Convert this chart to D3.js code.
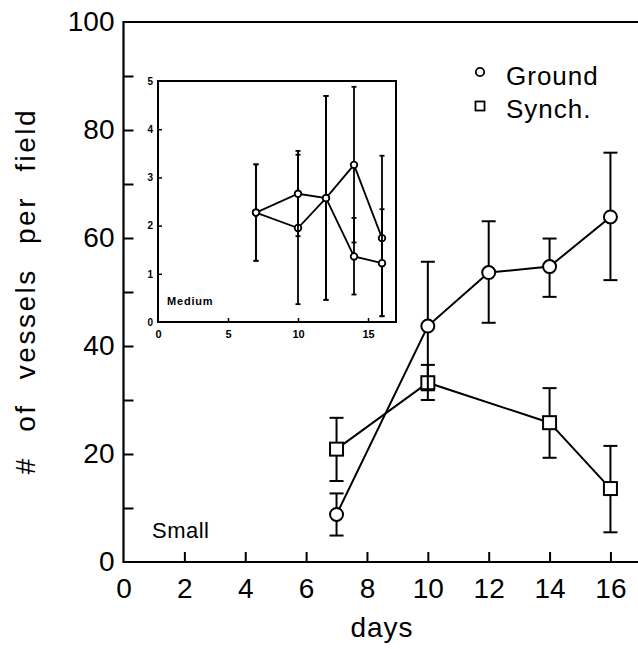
<!DOCTYPE html>
<html>
<head>
<meta charset="utf-8">
<script src="https://cdn.jsdelivr.net/npm/d3@7"></script>
<style>
  html, body { margin: 0; padding: 0; background: #fff; }
  svg { display: block; }
  text { font-family: "Liberation Sans", Arial, sans-serif; fill: #000; }
</style>
</head>
<body>
<div id="chart"></div>
<script>
// ---- Main chart data (Small vessels) ----
const days = [7, 10, 12, 14, 16];
const groundMean = [8.8, 43.7, 53.6, 54.7, 63.9];
const groundLow  = [4.9, 31.8, 44.3, 49.1, 52.2];
const groundHigh = [12.7, 55.6, 63.1, 59.9, 75.8];

const synchDays = [7, 10, 14, 16];
const synchMean = [20.9, 33.2, 25.8, 13.6];
const synchLow  = [15.0, 30.0, 19.3, 5.5];
const synchHigh = [26.7, 36.5, 32.2, 21.5];

// ---- Inset data (Medium vessels) ----
const insetDays = [7, 10, 12, 14, 16];
const medGroundMean = [2.27, 2.66, 2.57, 1.36, 1.22];
const medGroundLow  = [1.27, 1.78, 0.46, 0.57, 0.12];
const medGroundHigh = [3.27, 3.55, 4.69, 2.16, 2.34];
const medSynchMean  = [2.27, 1.95, 2.57, 3.26, 1.74];
const medSynchLow   = [1.27, 0.37, 0.46, 1.65, 0.12];
const medSynchHigh  = [3.27, 3.47, 4.69, 4.88, 3.45];

// ---- Tick labels ----
const xTicks = [0, 2, 4, 6, 8, 10, 12, 14, 16];
const yTicks = [0, 10, 20, 30, 40, 50, 60, 70, 80, 90, 100];
const yLabelTicks = [0, 20, 40, 60, 80, 100];
const insetXTicks = [0, 5, 10, 15];
const insetYTicks = [0, 1, 2, 3, 4, 5];

const W = 638, H = 649;
const svg = d3.select("#chart").append("svg").attr("width", W).attr("height", H);

// Main scales
const x = d3.scaleLinear().domain([0, 17.3]).range([123.5, 650]);
const y = d3.scaleLinear().domain([0, 100]).range([562, 22]);

// Frame
svg.append("path")
  .attr("d", `M${x(17.3)},${y(100)} L${x(0)},${y(100)} L${x(0)},${y(0)} L${x(17.3)},${y(0)}`)
  .attr("fill", "none").attr("stroke", "#000").attr("stroke-width", 2.2);

// X axis
const gx = svg.append("g").attr("transform", `translate(0,${y(0)})`)
  .call(d3.axisBottom(x).tickValues(xTicks).tickSize(-10).tickPadding(16).tickFormat(d3.format("d")));
gx.select(".domain").remove();
gx.selectAll(".tick line").attr("stroke-width", 2).filter(d => d === 0).remove();
gx.selectAll("text").attr("font-size", 28).attr("font-family", "Liberation Sans, Arial, sans-serif");

// Y axis
const gy = svg.append("g").attr("transform", `translate(${x(0)},0)`)
  .call(d3.axisLeft(y).tickValues(yTicks).tickSize(-10).tickPadding(9)
    .tickFormat(d => yLabelTicks.includes(d) ? d : ""));
gy.select(".domain").remove();
gy.selectAll(".tick line").attr("stroke-width", 2).filter(d => d === 0 || d === 100).remove();
gy.selectAll("text").attr("font-size", 28).attr("font-family", "Liberation Sans, Arial, sans-serif");

// Axis titles
svg.append("text").attr("x", 382).attr("y", 637).attr("text-anchor", "middle")
  .attr("font-size", 28).attr("letter-spacing", 1).text("days");
svg.append("text").attr("transform", "translate(35,291) rotate(-90)")
  .attr("text-anchor", "middle").attr("font-size", 28).attr("letter-spacing", 2.5)
  .attr("word-spacing", 14)
  .text("# of vessels per field");

svg.append("text").attr("x", 152).attr("y", 538).attr("font-size", 22).attr("letter-spacing", 0.5).text("Small");

// Helper for series
function drawSeries(g, xs, xScale, yScale, mean, low, high, capW, lw, marker, size) {
  const pts = xs.map((d, i) => ({ d, m: mean[i], lo: low[i], hi: high[i] }));
  g.append("path").datum(pts)
    .attr("d", d3.line().x(p => xScale(p.d)).y(p => yScale(p.m)))
    .attr("fill", "none").attr("stroke", "#000").attr("stroke-width", lw);
  const eb = g.append("g").attr("stroke", "#000").attr("stroke-width", lw);
  pts.forEach(p => {
    const cx = xScale(p.d);
    eb.append("line").attr("x1", cx).attr("x2", cx).attr("y1", yScale(p.lo)).attr("y2", yScale(p.hi));
    eb.append("line").attr("x1", cx - capW / 2).attr("x2", cx + capW / 2).attr("y1", yScale(p.lo)).attr("y2", yScale(p.lo));
    eb.append("line").attr("x1", cx - capW / 2).attr("x2", cx + capW / 2).attr("y1", yScale(p.hi)).attr("y2", yScale(p.hi));
  });
  const mk = g.append("g");
  pts.forEach(p => {
    const cx = xScale(p.d), cy = yScale(p.m);
    if (marker === "circle") {
      mk.append("circle").attr("cx", cx).attr("cy", cy).attr("r", size)
        .attr("fill", "#fff").attr("stroke", "#000").attr("stroke-width", lw);
    } else {
      mk.append("rect").attr("x", cx - size).attr("y", cy - size).attr("width", size * 2).attr("height", size * 2)
        .attr("fill", "#fff").attr("stroke", "#000").attr("stroke-width", lw);
    }
  });
}

const main = svg.append("g");
drawSeries(main.append("g"), synchDays, x, y, synchMean, synchLow, synchHigh, 14, 2, "square", 6.5);
drawSeries(main.append("g"), days, x, y, groundMean, groundLow, groundHigh, 14, 2, "circle", 6.5);

// Legend
svg.append("circle").attr("cx", 480).attr("cy", 72).attr("r", 4.2)
  .attr("fill", "#fff").attr("stroke", "#000").attr("stroke-width", 1.8);
svg.append("text").attr("x", 506).attr("y", 85).attr("font-size", 26).attr("letter-spacing", 1).text("Ground");
svg.append("rect").attr("x", 475.5).attr("y", 101.5).attr("width", 9).attr("height", 9)
  .attr("fill", "#fff").attr("stroke", "#000").attr("stroke-width", 1.8);
svg.append("text").attr("x", 506).attr("y", 118).attr("font-size", 26).attr("letter-spacing", 1).text("Synch.");

// ---- Inset ----
const ix = d3.scaleLinear().domain([0, 17]).range([158, 396]);
const iy = d3.scaleLinear().domain([0, 5]).range([322, 81]);

svg.append("rect").attr("x", ix(0)).attr("y", iy(5)).attr("width", ix(17) - ix(0)).attr("height", iy(0) - iy(5))
  .attr("fill", "#fff").attr("stroke", "#000").attr("stroke-width", 2);

const igx = svg.append("g").attr("transform", `translate(0,${iy(0)})`)
  .call(d3.axisBottom(ix).tickValues(insetXTicks).tickSize(-4).tickPadding(8).tickFormat(d3.format("d")));
igx.select(".domain").remove();
igx.selectAll(".tick line").attr("stroke-width", 1.5).filter(d => d === 0).remove();
igx.selectAll("text").attr("font-size", 11).attr("font-weight", "bold");

const igy = svg.append("g").attr("transform", `translate(${ix(0)},0)`)
  .call(d3.axisLeft(iy).tickValues(insetYTicks).tickSize(-4).tickPadding(5).tickFormat(d3.format("d")));
igy.select(".domain").remove();
igy.selectAll(".tick line").attr("stroke-width", 1.5).filter(d => d === 0 || d === 5).remove();
igy.selectAll("text").attr("font-size", 10).attr("font-weight", "bold");

svg.append("text").attr("x", 167).attr("y", 305).attr("font-size", 11).attr("font-weight", "bold")
  .attr("letter-spacing", 0.8).text("Medium");

const inset = svg.append("g");
drawSeries(inset.append("g"), insetDays, ix, iy, medSynchMean, medSynchLow, medSynchHigh, 5, 1.8, "circle", 3.3);
drawSeries(inset.append("g"), insetDays, ix, iy, medGroundMean, medGroundLow, medGroundHigh, 5, 1.8, "circle", 3.3);
</script>
</body>
</html>
